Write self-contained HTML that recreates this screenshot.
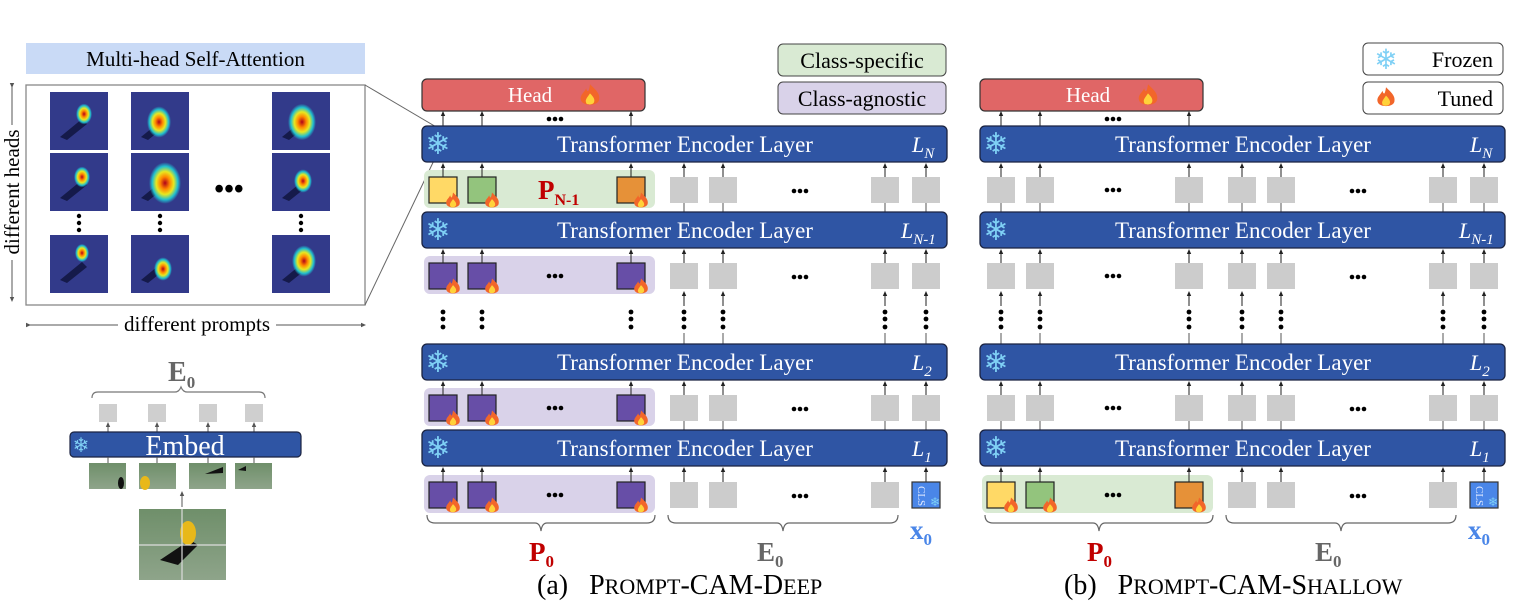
<!DOCTYPE html>
<html><head><meta charset="utf-8"><style>
body{margin:0;background:#fff;width:1528px;height:611px;overflow:hidden}
svg{display:block;font-family:"Liberation Serif",serif}
</style></head><body>
<svg id="s" width="1528" height="611" viewBox="0 0 1528 611" xmlns="http://www.w3.org/2000/svg">
<defs>
<radialGradient id="hot" cx="50%" cy="50%" r="50%">
<stop offset="0" stop-color="#b0001a"/><stop offset="0.3" stop-color="#ff8800"/><stop offset="0.55" stop-color="#e8e820"/><stop offset="0.8" stop-color="#20c0d0"/><stop offset="1" stop-color="#20c0d0" stop-opacity="0"/>
</radialGradient>
<linearGradient id="bird" x1="0" y1="0" x2="0" y2="1"><stop offset="0" stop-color="#6f8f6a"/><stop offset="1" stop-color="#8ea48a"/></linearGradient>
<marker id="ah" markerWidth="6" markerHeight="6" refX="3" refY="3" orient="auto"><path d="M0,0.8 L5,3 L0,5.2z" fill="#222"/></marker>
<marker id="ahg" markerWidth="6" markerHeight="6" refX="3" refY="3" orient="auto"><path d="M0,0.8 L5,3 L0,5.2z" fill="#555"/></marker>
<g id="flame"><path d="M0,-9 C4,-5 8,-2 7,3 C6,8 -6,8 -7,3 C-8,-1 -4,-3 -3,-6 C-2,-3 -1,-2 0,-9z" fill="#f2662a"/><path d="M0,-2 C3,1 4,3 3,5 C2,7 -3,7 -3,5 C-4,3 -2,1 0,-2z" fill="#ffd23a"/></g>
</defs>

<rect x="26" y="43" width="339" height="31" fill="#c9daf6"/>
<text x="195.5" y="66" font-size="21" text-anchor="middle">Multi-head Self-Attention</text>
<rect x="26" y="85" width="339" height="220" fill="#fff" stroke="#888" stroke-width="1.3"/>
<g id="heat"></g>
<text x="229" y="198" font-size="28" text-anchor="middle" font-weight="bold">•••</text>
<line x1="365" y1="85" x2="438" y2="128" stroke="#666" stroke-width="1"/>
<line x1="365" y1="305" x2="438" y2="152" stroke="#666" stroke-width="1"/>
<line x1="12" y1="86" x2="12" y2="300" stroke="#555" marker-start="url(#ahg)" marker-end="url(#ahg)"/>
<rect x="2" y="125" width="20" height="135" fill="#fff"/>
<text transform="translate(19,192) rotate(-90)" font-size="21" text-anchor="middle">different heads</text>
<line x1="29" y1="325" x2="364" y2="325" stroke="#555" marker-start="url(#ahg)" marker-end="url(#ahg)"/>
<rect x="118" y="314" width="158" height="22" fill="#fff"/>
<text x="197" y="331" font-size="21" text-anchor="middle">different prompts</text>

<text x="168" y="381" font-size="28" font-weight="bold" fill="#666">E<tspan font-size="17" dy="7">0</tspan></text>
<path d="M92,398 q0,-6 6,-6 h77 q4,0 6,-5 q2,5 6,5 h72 q6,0 6,6" fill="none" stroke="#777" stroke-width="1.2"/>
<g fill="#cfcfcf"><rect x="99" y="404" width="18" height="18"/><rect x="148" y="404" width="18" height="18"/><rect x="199" y="404" width="18" height="18"/><rect x="245" y="404" width="18" height="18"/></g>
<g stroke="#555" stroke-width="1"><line x1="108" y1="432" x2="108" y2="424" marker-end="url(#ahg)"/><line x1="157" y1="432" x2="157" y2="424" marker-end="url(#ahg)"/><line x1="208" y1="432" x2="208" y2="424" marker-end="url(#ahg)"/><line x1="254" y1="432" x2="254" y2="424" marker-end="url(#ahg)"/></g>
<rect x="70" y="432" width="231" height="25" rx="4" fill="#2f55a4" stroke="#1b2340" stroke-width="1.2"/>
<text x="81" y="452" font-size="20" fill="#7fd0f5" text-anchor="middle">❄</text>
<text x="185" y="455" font-size="28" fill="#fff" text-anchor="middle">Embed</text>
<g fill="url(#bird)"><rect x="89" y="463" width="37" height="26"/><rect x="139" y="463" width="37" height="26"/><rect x="189" y="463" width="37" height="26"/><rect x="235" y="463" width="37" height="26"/></g>
<g stroke="#555"><line x1="108" y1="457" x2="108" y2="463"/><line x1="157" y1="457" x2="157" y2="463"/><line x1="208" y1="457" x2="208" y2="463"/><line x1="254" y1="457" x2="254" y2="463"/></g>
<ellipse cx="145" cy="483" rx="5" ry="7" fill="#e8b81a"/><ellipse cx="121" cy="483" rx="3" ry="6" fill="#111"/><path d="M205,474 l18,-7 v6z" fill="#111"/><path d="M238,470 l8,-4 v5z" fill="#111"/>
<rect x="139" y="509" width="87" height="71" fill="url(#bird)"/>
<path d="M160,560 l30,-20 l8,5 l-20,20z" fill="#111"/><ellipse cx="188" cy="533" rx="8" ry="12" fill="#e8b81a"/>
<line x1="139" y1="545" x2="226" y2="545" stroke="#ddd" stroke-width="1.2"/><line x1="182" y1="509" x2="182" y2="580" stroke="#ddd" stroke-width="1.2"/>
<line x1="182" y1="507" x2="182" y2="493" stroke="#555" marker-end="url(#ahg)"/>

<rect x="778" y="44" width="168" height="32" rx="5" fill="#d9ead3" stroke="#444"/>
<text x="862" y="68" font-size="22" text-anchor="middle">Class-specific</text>
<rect x="778" y="82" width="168" height="32" rx="5" fill="#d9d2e9" stroke="#444"/>
<text x="862" y="106" font-size="22" text-anchor="middle">Class-agnostic</text>
<rect x="1363" y="43" width="140" height="32" rx="5" fill="#fff" stroke="#444"/>
<text x="1386" y="69" font-size="28" fill="#7fd0f5" text-anchor="middle">❄</text>
<text x="1493" y="67" font-size="22" text-anchor="end">Frozen</text>
<rect x="1363" y="82" width="140" height="32" rx="5" fill="#fff" stroke="#444"/>
<use href="#flame" transform="translate(1386,98) scale(1.2)"/>
<text x="1493" y="106" font-size="22" text-anchor="end">Tuned</text>

<g id="panels"></g>
<g id="texts" font-size="23" fill="#fff" text-anchor="middle">
<text x="530" y="102" font-size="21">Head</text>
<text x="1088" y="102" font-size="21">Head</text>
<text x="685" y="152">Transformer Encoder Layer</text>
<text x="685" y="238">Transformer Encoder Layer</text>
<text x="685" y="370">Transformer Encoder Layer</text>
<text x="685" y="456">Transformer Encoder Layer</text>
<text x="1243" y="152">Transformer Encoder Layer</text>
<text x="1243" y="238">Transformer Encoder Layer</text>
<text x="1243" y="370">Transformer Encoder Layer</text>
<text x="1243" y="456">Transformer Encoder Layer</text>
</g>
<g font-size="22" fill="#fff" font-style="italic">
<text x="912" y="152">L<tspan font-size="15" dy="6">N</tspan></text>
<text x="901" y="238">L<tspan font-size="15" dy="6">N-1</tspan></text>
<text x="912" y="370">L<tspan font-size="15" dy="6">2</tspan></text>
<text x="912" y="456">L<tspan font-size="15" dy="6">1</tspan></text>
<text x="1470" y="152">L<tspan font-size="15" dy="6">N</tspan></text>
<text x="1459" y="238">L<tspan font-size="15" dy="6">N-1</tspan></text>
<text x="1470" y="370">L<tspan font-size="15" dy="6">2</tspan></text>
<text x="1470" y="456">L<tspan font-size="15" dy="6">1</tspan></text>
</g>
<text x="538" y="199" font-size="27" font-weight="bold" fill="#c00000">P<tspan font-size="16" dy="6">N-1</tspan></text>
<g font-weight="bold" font-size="27">
<text x="529" y="561" fill="#c00000">P<tspan font-size="17" dy="6">0</tspan></text>
<text x="757" y="561" fill="#666">E<tspan font-size="17" dy="6">0</tspan></text>
<text x="910" y="539" fill="#4a86e8">x<tspan font-size="17" dy="6">0</tspan></text>
<text x="1087" y="561" fill="#c00000">P<tspan font-size="17" dy="6">0</tspan></text>
<text x="1315" y="561" fill="#666">E<tspan font-size="17" dy="6">0</tspan></text>
<text x="1468" y="539" fill="#4a86e8">x<tspan font-size="17" dy="6">0</tspan></text>
</g>
<g font-size="11" fill="#dfe9ff"><text transform="translate(918,486) rotate(90)">CLS</text><text transform="translate(1476,486) rotate(90)">CLS</text></g>
<g font-size="28">
<text x="537" y="594" xml:space="preserve">(a)   P<tspan font-size="22">ROMPT</tspan>-CAM-D<tspan font-size="22">EEP</tspan></text>
<text x="1064" y="594" xml:space="preserve">(b)   P<tspan font-size="22">ROMPT</tspan>-CAM-S<tspan font-size="22">HALLOW</tspan></text>
</g>
</svg>
<script>
const NS="http://www.w3.org/2000/svg";
function el(p,t,a){const e=document.createElementNS(NS,t);for(const k in a)e.setAttribute(k,a[k]);p.appendChild(e);return e;}
const H=document.getElementById('heat');
const cols=[50,131,272], rows=[92,153,235];
const blobs=[[24,22,8],[18,30,12],[20,30,14],[22,24,8],[24,30,16],[21,28,9],[22,18,7],[22,34,9],[22,26,12]];
rows.forEach((ry,ri)=>cols.forEach((cx,ci)=>{
 el(H,'rect',{x:cx,y:ry,width:58,height:58,fill:'#323a8a'});
 el(H,'path',{d:`M${cx+10},${ry+45} l22,-18 l5,5 l-20,16z`,fill:'#151a4a'});
 const b=blobs[ri*3+ci];
 el(H,'ellipse',{cx:cx+b[0]+10,cy:ry+b[1],rx:b[2],ry:b[2]*1.3,fill:'url(#hot)'});
}));
[79,160,301].forEach(x=>[221,228,235].forEach(y=>el(H,'circle',{cx:x,cy:y-5,r:2.2,fill:'#000'})));
const P=document.getElementById('panels');
const L=[126,212,344,430], R=[177,263,395,482];
function panel(o,deep){
 const pc=[443,482,631].map(v=>v+o), gc=[684,723,885,926].map(v=>v+o);
 const all=pc.concat(gc);
 el(P,'rect',{x:422+o,y:79,width:223,height:32,rx:5,fill:'#e06666',stroke:'#333','stroke-width':1.2});
 el(P,'use',{href:'#flame',transform:`translate(${590+o},96) scale(1.3)`});
 pc.forEach(x=>el(P,'line',{x1:x,y1:126,x2:x,y2:113,stroke:'#222','marker-end':'url(#ah)'}));
 [549,555,561].forEach(x=>el(P,'circle',{cx:x+o,cy:119,r:2.3,fill:'#000'}));
 R.forEach((ry,i)=>{
   let bg=null;
   if(deep) bg=i==0?'#d9ead3':'#d9d2e9'; else if(i==3) bg='#d9ead3';
   if(bg) el(P,'rect',{x:424+o,y:ry-7,width:231,height:38,rx:6,fill:bg});
 });
 R.forEach((ry,i)=>{
   const top=L[i]+36;
   all.forEach((x,j)=>{
     const isP=j<3;
     const promptRow = deep?isP:(isP&&i==3);
     el(P,'line',{x1:x,y1:ry,x2:x,y2:top+3,stroke:'#222','marker-end':'url(#ah)'});
     if(!promptRow && i<3){ const nl=i==1?null:L[i+1]; if(nl) el(P,'line',{x1:x,y1:ry+26,x2:x,y2:nl,stroke:'#555'}); }
   });
 });
 all.forEach((x,j)=>{
   const isP=j<3;
   if(!(deep&&isP)){ el(P,'line',{x1:x,y1:306,x2:x,y2:293,stroke:'#222','marker-end':'url(#ah)'}); el(P,'line',{x1:x,y1:333,x2:x,y2:344,stroke:'#555'}); }
   [312,319,327].forEach(y=>el(P,'circle',{cx:x,cy:y,r:2.4,fill:'#000'}));
 });
 R.forEach((ry,i)=>{
   all.forEach((x,j)=>{
     const isP=j<3;
     let fill='#cccccc',stroke='none',fl=false;
     if(i==3&&j==6){fill='#4a86e8';stroke='#333';}
     if(isP){
       if(deep){ if(i==0){fill=['#ffd966','#93c47d','#e69138'][j];} else fill='#674ea7'; stroke='#222'; fl=true;}
       else if(i==3){fill=['#ffd966','#93c47d','#e69138'][j];stroke='#222';fl=true;}
     }
     el(P,'rect',{x:x-14,y:ry,width:28,height:26,fill:fill,stroke:stroke,'stroke-width':1.2});
     if(fl) el(P,'use',{href:'#flame',transform:`translate(${x+10},${ry+24}) scale(0.95)`});
   });
   if(!(deep&&i==0)) [549,555,561].forEach(x=>el(P,'circle',{cx:x+o,cy:ry+13,r:2.3,fill:'#000'}));
   [794,800,806].forEach(x=>el(P,'circle',{cx:x+o,cy:ry+14,r:2.3,fill:'#000'}));
 });
 L.forEach(ly=>{
   el(P,'rect',{x:422+o,y:ly,width:525,height:36,rx:5,fill:'#2f55a4',stroke:'#1b2340','stroke-width':1.3});
   const t=el(P,'text',{x:438+o,y:ly+28,'font-size':30,fill:'#7fd0f5','text-anchor':'middle'}); t.textContent='❄';
 });
 const br=(x1,x2)=>{const m=(x1+x2)/2;el(P,'path',{d:`M${x1},515 q0,8 8,8 H${m-6} q5,0 6,8 q1,-8 6,-8 H${x2-8} q8,0 8,-8`,fill:'none',stroke:'#666','stroke-width':1.2});};
 br(427+o,655+o); br(668+o,898+o);
 el(P,'text',{x:935+o,y:506,'font-size':12,fill:'#7fd0f5','text-anchor':'middle'}).textContent='❄';
}
panel(0,true); panel(558,false);
document.getElementById('s').appendChild(document.getElementById('texts'));
</script>
</body></html>
